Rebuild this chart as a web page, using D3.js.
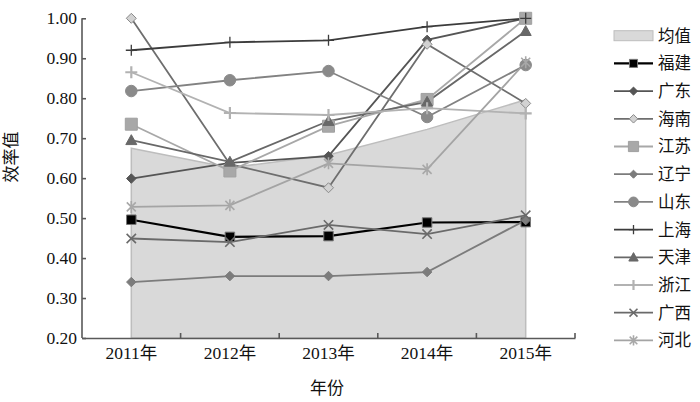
<!DOCTYPE html>
<html><head><meta charset="utf-8">
<script src="https://cdn.jsdelivr.net/npm/d3@7"></script>
<style>body{margin:0;background:#fff}svg{display:block}</style>
</head><body>
<svg id="c" width="700" height="402"></svg>
<script>
const years = ["2011年","2012年","2013年","2014年","2015年"];
const yTicks = [0.2,0.3,0.4,0.5,0.6,0.7,0.8,0.9,1.0];
const meanValues = [0.675,0.626,0.658,0.722,0.796];
const seriesNames = ["福建","广东","海南","江苏","辽宁","山东","上海","天津","浙江","广西","河北"];
const fujian   = [0.496,0.453,0.455,0.489,0.490];
const guangdong= [0.599,0.638,0.655,0.946,1.000];
const hainan   = [1.000,0.635,0.576,0.935,0.787];
const jiangsu  = [0.735,0.618,0.730,0.797,1.000];
const liaoning = [0.340,0.355,0.355,0.365,0.495];
const shandong = [0.818,0.845,0.868,0.753,0.883];
const shanghai = [0.920,0.940,0.945,0.979,1.000];
const tianjin  = [0.695,0.641,0.743,0.791,0.968];
const zhejiang = [0.865,0.763,0.758,0.775,0.762];
const guangxi  = [0.449,0.440,0.483,0.460,0.507];
const hebei    = [0.528,0.532,0.637,0.622,0.890];
const seriesValues = [fujian,guangdong,hainan,jiangsu,liaoning,shandong,shanghai,tianjin,zhejiang,guangxi,hebei];

// styles (separate from data)
const styles = [
  {line:"#000000", marker:"square",  fill:"#000000", stroke:"#777", size:9.5, sw:1},
  {line:"#555555", marker:"diamond", fill:"#555555", stroke:"#555555", size:9.5, sw:1},
  {line:"#6e6e6e", marker:"diamond", fill:"#d2d2d2", stroke:"#8a8a8a", size:10, sw:1},
  {line:"#a8a8a8", marker:"square",  fill:"#a8a8a8", stroke:"#a0a0a0", size:12, sw:1},
  {line:"#7c7c7c", marker:"diamond", fill:"#7c7c7c", stroke:"#7c7c7c", size:9.5, sw:1},
  {line:"#828282", marker:"circle",  fill:"#8a8a8a", stroke:"#8a8a8a", size:11.5, sw:1},
  {line:"#3c3c3c", marker:"plus",    fill:"none",    stroke:"#3c3c3c", size:11, sw:1.3},
  {line:"#686868", marker:"triangle",fill:"#686868", stroke:"#686868", size:11, sw:1},
  {line:"#b2b2b2", marker:"plus",    fill:"none",    stroke:"#b2b2b2", size:12, sw:2.2},
  {line:"#6a6a6a", marker:"times",   fill:"none",    stroke:"#6a6a6a", size:11, sw:1.6},
  {line:"#a4a4a4", marker:"asterisk",fill:"none",    stroke:"#a8a8a8", size:12, sw:1.6}
];

function markerPath(type, s){
  const h = s/2;
  switch(type){
    case "square": return `M${-h},${-h}H${h}V${h}H${-h}Z`;
    case "diamond": return `M0,${-h}L${h},0L0,${h}L${-h},0Z`;
    case "circle": return `M${h},0A${h},${h} 0 1,1 ${-h},0A${h},${h} 0 1,1 ${h},0Z`;
    case "triangle": return `M0,${-h}L${h},${h*0.8}L${-h},${h*0.8}Z`;
    case "plus": return `M${-h},0H${h}M0,${-h}V${h}`;
    case "times": { const k=h*0.85; return `M${-k},${-k}L${k},${k}M${-k},${k}L${k},${-k}`; }
    case "asterisk": { const k=h*0.75; return `M${-k},${-k}L${k},${k}M${-k},${k}L${k},${-k}M0,${-h}V${h}`; }
  }
}

const svg = d3.select("#c");
const margin = {left:82, right:575, top:18.3, bottom:338};
const x = d3.scaleBand().domain(years).range([margin.left, margin.right]);
const y = d3.scaleLinear().domain([0.2,1.0]).range([margin.bottom, margin.top]);
const cx = d => x(d) + x.bandwidth()/2;

const serif = "'Liberation Serif','Times New Roman','Noto Sans CJK SC',serif";

// mean area
const area = d3.area().x((d,i)=>cx(years[i])).y0(y(0.2)).y1(d=>y(d));
svg.append("path").datum(meanValues).attr("d", area)
  .attr("fill","#d9d9d9").attr("stroke","#bdbdbd").attr("stroke-width",1.5);

// axes
const yAxis = d3.axisLeft(y).tickValues(yTicks).tickFormat(d3.format(".2f")).tickSizeInner(-4).tickSizeOuter(0).tickPadding(5);
const gy = svg.append("g").attr("transform",`translate(${margin.left},0)`).call(yAxis);
const xAxis = d3.axisBottom(x).tickSize(0).tickPadding(9);
const gx = svg.append("g").attr("transform",`translate(0,${margin.bottom})`).call(xAxis);
// inward ticks at band boundaries
const bounds = years.map(d=>x(d)+x.bandwidth());
gx.selectAll(".bt").data(bounds).enter().append("line").attr("class","bt")
  .attr("x1",d=>d).attr("x2",d=>d).attr("y1",0).attr("y2",-5);
[gx,gy].forEach(g=>{
  g.select(".domain").attr("stroke","#595959").attr("stroke-width",1.6);
  g.selectAll("line").attr("stroke","#595959").attr("stroke-width",1.6);
  g.selectAll("text").attr("font-family",serif).attr("font-size",17.5).attr("fill","#111");
});
gy.select(".domain").attr("d",`M0,${y(1.0)}V${y(0.2)}`);

// series lines
const line = d3.line().x((d,i)=>cx(years[i])).y(d=>y(d));
seriesValues.forEach((vals,k)=>{
  svg.append("path").datum(vals).attr("d",line).attr("fill","none")
    .attr("stroke",styles[k].line).attr("stroke-width",k===0?2.2:1.8);
});
seriesValues.forEach((vals,k)=>{
  const st = styles[k];
  svg.append("g").selectAll("path").data(vals).enter().append("path")
    .attr("transform",(d,i)=>`translate(${cx(years[i])},${y(d)})`)
    .attr("d",markerPath(st.marker, st.size))
    .attr("fill",st.fill).attr("stroke",st.stroke)
    .attr("stroke-width",st.sw);
});

// axis titles
svg.append("text").attr("transform","translate(13,157) rotate(-90)")
  .attr("text-anchor","middle").attr("dominant-baseline","middle")
  .attr("font-family",serif).attr("font-size",17).attr("fill","#111").text("效率值");
svg.append("text").attr("x",327).attr("y",394).attr("text-anchor","middle")
  .attr("font-family",serif).attr("font-size",17).attr("fill","#111").text("年份");

// legend
const lg = svg.append("g");
const rowY = i => 35.7 + i*27.7;
lg.append("rect").attr("x",614).attr("y",rowY(0)-5).attr("width",39).attr("height",10)
  .attr("fill","#d9d9d9").attr("stroke","#bdbdbd").attr("stroke-width",1);
lg.append("text").attr("x",658).attr("y",rowY(0)).attr("dy","0.36em")
  .attr("font-family",serif).attr("font-size",16.5).attr("fill","#111").text("均值");
seriesNames.forEach((name,k)=>{
  const st = styles[k], yy = rowY(k+1);
  lg.append("line").attr("x1",614).attr("x2",653).attr("y1",yy).attr("y2",yy)
    .attr("stroke",st.line).attr("stroke-width",k===0?2.2:1.8);
  lg.append("path").attr("transform",`translate(633.5,${yy})`)
    .attr("d",markerPath(st.marker, st.size*0.85))
    .attr("fill",st.fill).attr("stroke",st.stroke).attr("stroke-width",st.sw);
  lg.append("text").attr("x",658).attr("y",yy).attr("dy","0.36em")
    .attr("font-family",serif).attr("font-size",16.5).attr("fill","#111").text(name);
});
</script>
</body></html>
